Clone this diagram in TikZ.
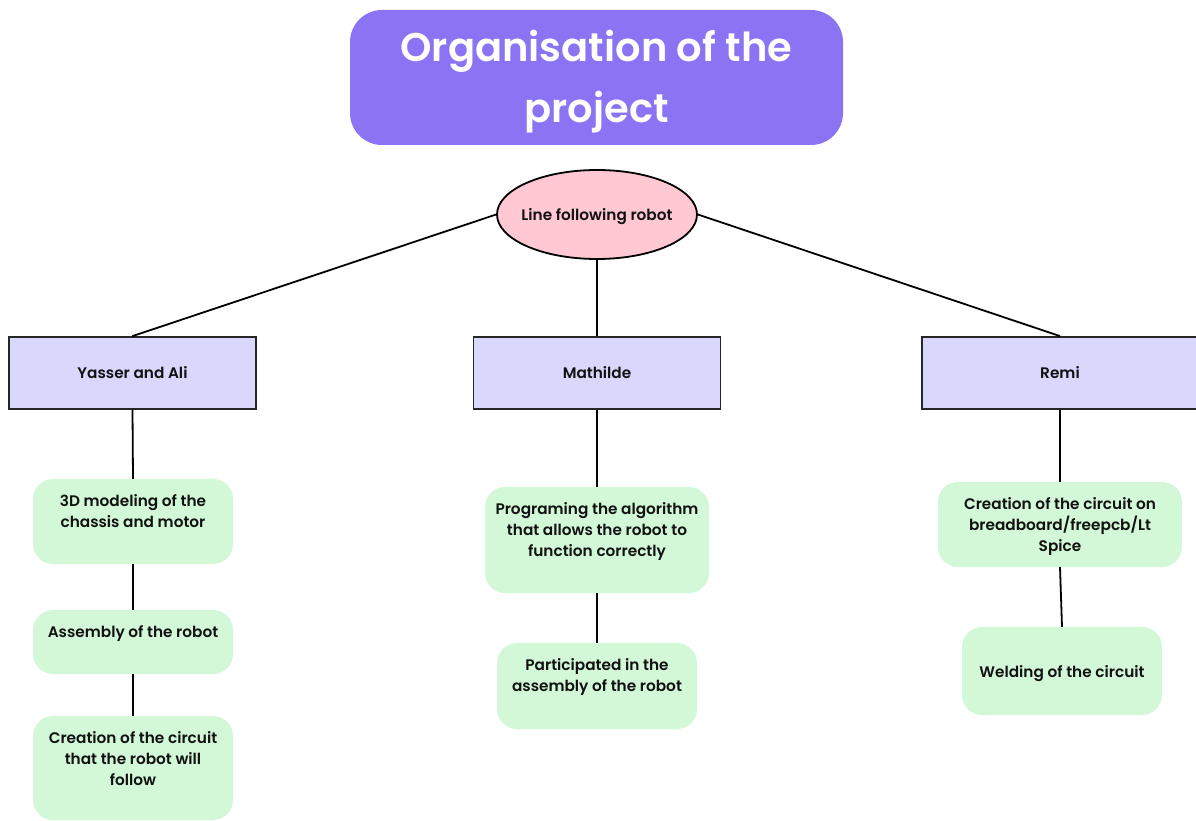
\documentclass[tikz,border=0pt]{standalone}
\usepackage{fontspec}
\setmainfont{Poppins}[BoldFont={* SemiBold}]
\usetikzlibrary{shapes.geometric}
\definecolor{titlefill}{HTML}{8B74F3}
\definecolor{rootfill}{HTML}{FFC8D3}
\definecolor{personfill}{HTML}{D9D7FC}
\definecolor{taskfill}{HTML}{D3F8D8}
\definecolor{inktext}{HTML}{111111}
\newcommand{\bodyfont}{\fontsize{15.3}{21}\selectfont\bfseries}
\tikzset{
  titlebox/.style={fill=titlefill, rounded corners=32pt, minimum width=493pt, minimum height=135pt, inner sep=0pt},
  titletext/.style={text=white, font=\fontsize{40}{61}\selectfont\bfseries, align=center, inner sep=0pt},
  rootnode/.style={ellipse, draw=black, line width=1.8pt, fill=rootfill, minimum width=200pt, minimum height=89pt, inner sep=0pt},
  plaintext/.style={font=\bodyfont, text=inktext, inner sep=0pt, yshift=-2.5pt},
  personbox/.style={rectangle, draw=black!85, line width=1.8pt, fill=personfill, minimum height=72pt, inner sep=0pt, font=\bodyfont, text=inktext},
  taskbox/.style={rectangle, fill=taskfill, rounded corners=20pt, inner sep=0pt},
  tasktext/.style={font=\bodyfont, text=inktext, align=center, inner sep=0pt, anchor=north, yshift=-15.5pt},
  link/.style={draw=black, line width=1.8pt}
}
\begin{document}
\begin{tikzpicture}[x=1pt,y=-1pt]
\useasboundingbox (0,0) rectangle (1196,821);
\fill[white] (0,0) rectangle (1196,821);

% heading
\node[titlebox] (title) at (596.5,77.5) {};
\node[titletext, yshift=-4pt] (titlelbl) at (title.center) {Organisation of the\\project};

% root
\node[rootnode] (root) at (597,214.5) {};
\node[plaintext] (rootlbl) at (root.center) {Line following robot};

% team members
\node[personbox, minimum width=247pt] (yasser) at (132.5,373) {Yasser and Ali};
\node[personbox, minimum width=247pt] (mathilde) at (597,373) {Mathilde};
\node[personbox, minimum width=276pt] (remi) at (1060,373) {Remi};

% tasks: Yasser and Ali
\node[taskbox, minimum width=200pt, minimum height=85pt] (y1) at (133,521.5) {};
\node[tasktext] (y1t) at (y1.north) {3D modeling of the\\chassis and motor};
\node[taskbox, minimum width=200pt, minimum height=64pt] (y2) at (133,642) {};
\node[tasktext] (y2t) at (y2.north) {Assembly of the robot};
\node[taskbox, minimum width=200pt, minimum height=104pt] (y3) at (133,768) {};
\node[tasktext] (y3t) at (y3.north) {Creation of the circuit\\that the robot will\\follow};

% tasks: Mathilde
\node[taskbox, minimum width=224pt, minimum height=106pt] (m1) at (597,540) {};
\node[tasktext] (m1t) at (m1.north) {Programing the algorithm\\that allows the robot to\\function correctly};
\node[taskbox, minimum width=200pt, minimum height=86pt] (m2) at (597,686) {};
\node[tasktext] (m2t) at (m2.north) {Participated in the\\assembly of the robot};

% tasks: Remi
\node[taskbox, minimum width=244pt, minimum height=85pt] (r1) at (1060,524.5) {};
\node[tasktext] (r1t) at (r1.north) {Creation of the circuit on\\breadboard/freepcb/Lt\\Spice};
\node[taskbox, minimum width=200pt, minimum height=88pt] (r2) at (1062,671) {};
\node[plaintext] (r2t) at (r2.center) {Welding of the circuit};

% connectors
\draw[link] (root.west) -- (yasser.north);
\draw[link] (root.south) -- (mathilde.north);
\draw[link] (root.east) -- (remi.north);
\draw[link] (yasser.south) -- (y1.north);
\draw[link] (y1.south) -- (y2.north);
\draw[link] (y2.south) -- (y3.north);
\draw[link] (mathilde.south) -- (m1.north);
\draw[link] (m1.south) -- (m2.north);
\draw[link] (remi.south) -- (r1.north);
\draw[link] (r1.south) -- (r2.north);
\end{tikzpicture}
\end{document}
